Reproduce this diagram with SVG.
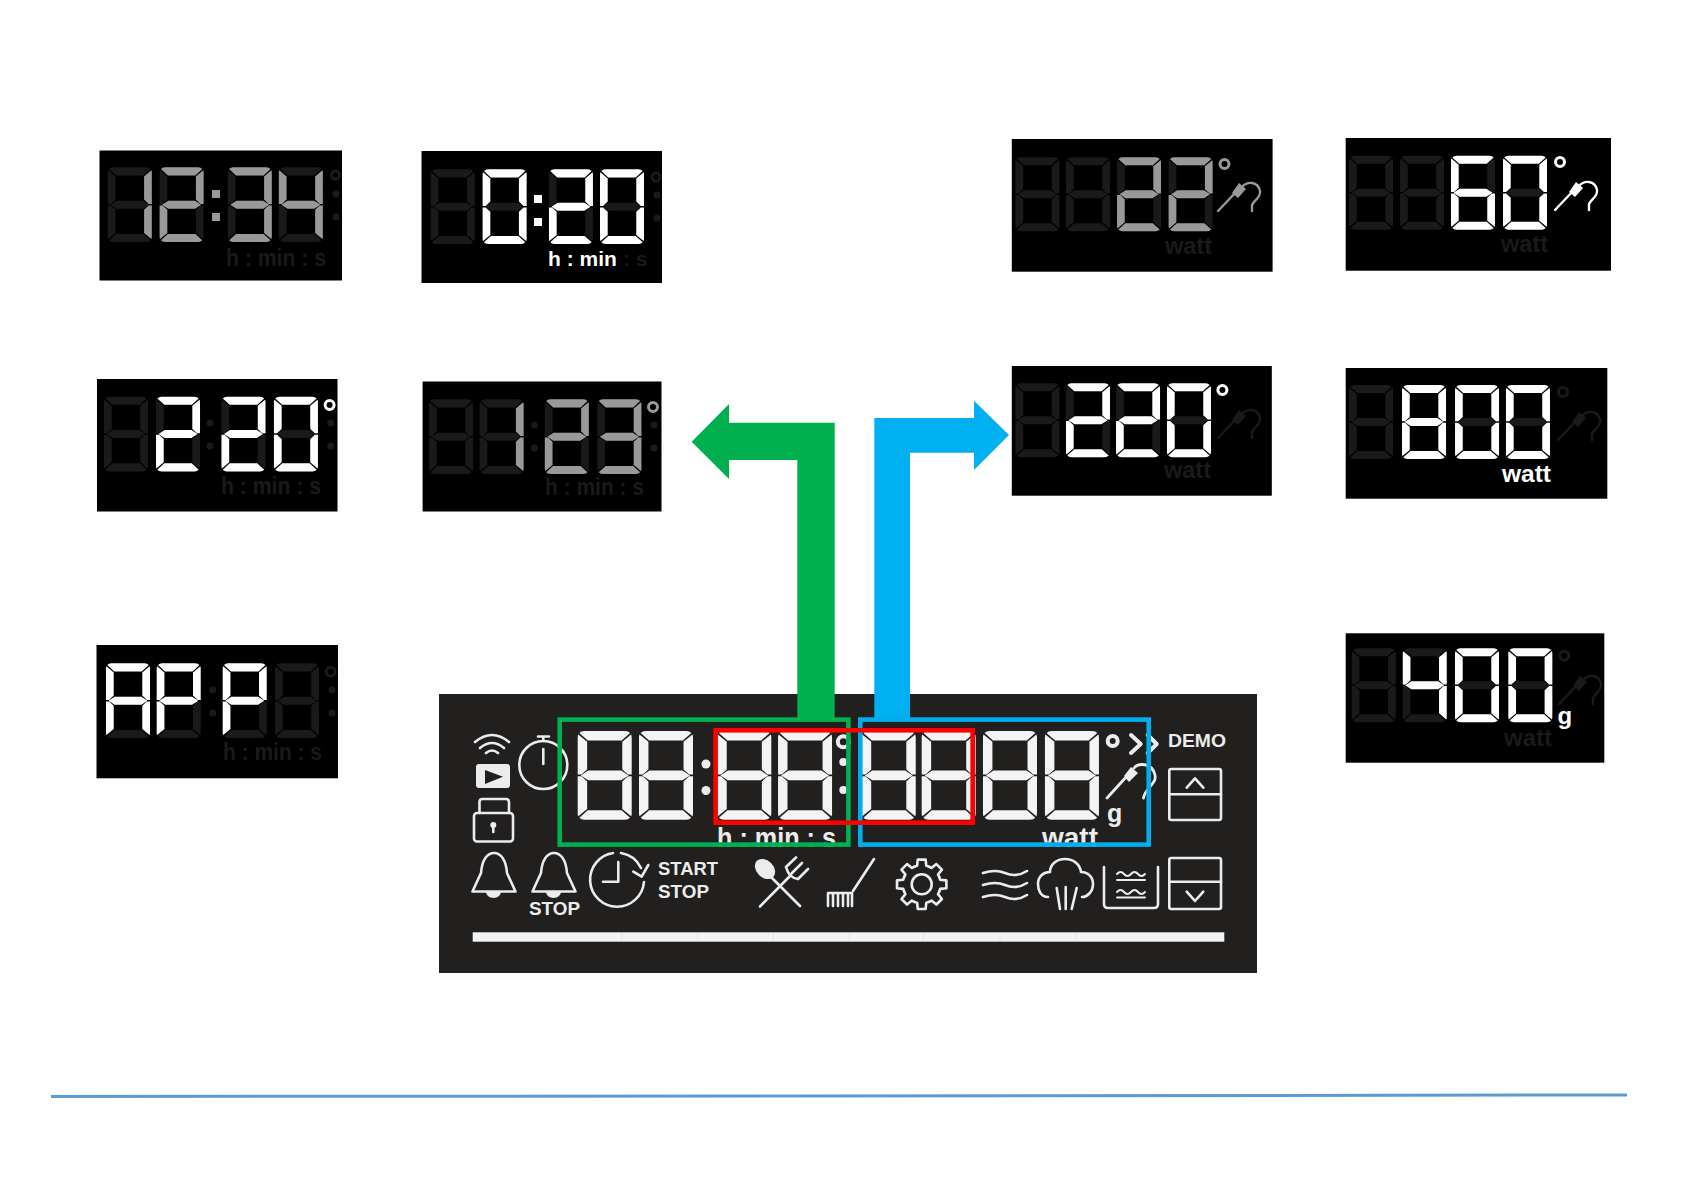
<svg xmlns="http://www.w3.org/2000/svg" width="1684" height="1191" viewBox="0 0 1684 1191">
<style>
.bg{fill:#000}
.dim{fill:#1a1a1a;color:#1a1a1a}
.wh{fill:#fff;color:#fff}
.gy{fill:#999;color:#999}
.lbl{font-family:"Liberation Sans",Arial,sans-serif;font-weight:700;font-size:24px}
.lbs{font-family:"Liberation Sans",Arial,sans-serif;font-weight:700;font-size:21px}
.pt{font-family:"Liberation Sans",Arial,sans-serif;font-weight:700;fill:#ececec}
.ic{fill:none;stroke:#ececec;stroke-width:2.6;stroke-linecap:round;stroke-linejoin:round}
.icf{fill:#ececec}
.ring{fill:none;stroke:currentColor;stroke-width:3}
</style>
<defs>
<path id="sa" d="M5 0H35Q37.500 0 38.800 1.700L32.500 8H7.500L1.200 1.700Q2.500 0 5 0Z"/>
<path id="sf" d="M0 5.500Q0 3.800 .4 2.900L7 9V32L2.800 36.300H0Z"/>
<path id="sb" d="M40 5.500Q40 3.800 39.600 2.900L33 9V32L37.200 36.300H40Z"/>
<path id="sg" d="M2.300 37L7.800 33H32.200L37.700 37 32.200 41H7.800Z"/>
<path id="se" d="M0 68.500Q0 70.200 .4 71.100L7 65V42L2.800 37.700H0Z"/>
<path id="sc" d="M40 68.500Q40 70.200 39.600 71.100L33 65V42L37.200 37.700H40Z"/>
<path id="sd" d="M5 74H35Q37.500 74 38.800 72.300L32.500 66H7.500L1.200 72.300Q2.500 74 5 74Z"/>
<g id="d8"><use href="#sa"/><use href="#sb"/><use href="#sc"/><use href="#sd"/><use href="#se"/><use href="#sf"/><use href="#sg"/></g>
<g id="d0"><use href="#sa"/><use href="#sb"/><use href="#sc"/><use href="#sd"/><use href="#se"/><use href="#sf"/></g>
<g id="d1"><use href="#sb"/><use href="#sc"/></g>
<g id="d2"><use href="#sa"/><use href="#sb"/><use href="#sg"/><use href="#se"/><use href="#sd"/></g>
<g id="d3"><use href="#sa"/><use href="#sb"/><use href="#sg"/><use href="#sc"/><use href="#sd"/></g>
<g id="d4"><use href="#sf"/><use href="#sb"/><use href="#sg"/><use href="#sc"/></g>
<g id="d6"><use href="#sa"/><use href="#sf"/><use href="#sg"/><use href="#se"/><use href="#sc"/><use href="#sd"/></g>
<g id="dA"><use href="#sa"/><use href="#sb"/><use href="#sc"/><use href="#se"/><use href="#sf"/><use href="#sg"/></g>
<g id="dP"><use href="#sa"/><use href="#sb"/><use href="#se"/><use href="#sf"/><use href="#sg"/></g>
<g id="probe"><path d="M0 30L19 10M24 6C29 0 40 0 42 10C43 17 36 19 34 24V30" fill="none" stroke="currentColor" stroke-width="2.400" stroke-linecap="round"/><path d="M14 12L21 2 28 8 20 17Z" fill="currentColor"/></g>
<path id="tooth" d="M-7.270 -17.550A19 19 0 0 1 -4.600 -18.440L-3.910 -24.690H3.910L4.600 -18.440A19 19 0 0 1 7.270 -17.550"/>
</defs>
<rect width="1684" height="1191" fill="#fff"/>

<g id="inset-1234">
<rect class="bg" x="99.500" y="150.500" width="242.500" height="130"/>
<g transform="translate(107.800 167.300) scale(1.1 1.01)">
<use href="#d8" class="dim"/><use href="#d1" class="gy"/>
<use href="#d8" x="47.100" class="dim"/><use href="#d2" x="47.100" class="gy"/>
<use href="#d8" x="109.100" class="dim"/><use href="#d3" x="109.100" class="gy"/>
<use href="#d8" x="155.500" class="dim"/><use href="#d4" x="155.500" class="gy"/>
</g>
<rect class="gy" x="212" y="190" width="8" height="8"/><rect class="gy" x="212" y="213" width="8" height="8"/>
<circle class="ring dim" cx="335.500" cy="175" r="4"/><circle class="dim" cx="336" cy="194" r="3.500"/><circle class="dim" cx="336" cy="217" r="3.500"/>
<text class="lbl dim" x="226" y="266" textLength="100" lengthAdjust="spacingAndGlyphs">h : min : s</text>
</g>

<g id="inset-020">
<rect class="bg" x="421.500" y="151" width="240.500" height="132"/>
<g transform="translate(430.700 169.300) scale(1.1 1.01)">
<use href="#d8" class="dim"/>
<use href="#d8" x="47.200" class="dim"/><use href="#d0" x="47.200" class="wh"/>
<use href="#d8" x="107.500" class="dim"/><use href="#d2" x="107.500" class="wh"/>
<use href="#d8" x="153.900" class="dim"/><use href="#d0" x="153.900" class="wh"/>
</g>
<rect class="wh" x="534" y="195" width="8" height="8"/><rect class="wh" x="534" y="218" width="8" height="8"/>
<circle class="ring dim" cx="656" cy="177" r="4"/><circle class="dim" cx="657" cy="195" r="3.500"/><circle class="dim" cx="657" cy="218" r="3.500"/>
<text class="lbs wh" x="548" y="266">h : min</text>
<text class="lbs dim" x="623" y="266">: s</text>
</g>

<g id="inset-220a">
<rect class="bg" x="97" y="379" width="240.500" height="132.500"/>
<g transform="translate(104 396.700) scale(1.1 1.01)">
<use href="#d8" class="dim"/>
<use href="#d8" x="47.300" class="dim"/><use href="#d2" x="47.300" class="wh"/>
<use href="#d8" x="106.800" class="dim"/><use href="#d2" x="106.800" class="wh"/>
<use href="#d8" x="154.500" class="dim"/><use href="#d0" x="154.500" class="wh"/>
</g>
<circle class="dim" cx="210" cy="423" r="3.500"/><circle class="dim" cx="210" cy="446" r="3.500"/>
<circle class="ring wh" cx="329.600" cy="405" r="4.500"/><circle class="dim" cx="330.700" cy="423" r="3.500"/><circle class="dim" cx="330.700" cy="446" r="3.500"/>
<text class="lbl dim" x="221" y="494" textLength="100" lengthAdjust="spacingAndGlyphs">h : min : s</text>
</g>

<g id="inset-123">
<rect class="bg" x="422.600" y="381.500" width="238.900" height="130"/>
<g transform="translate(429 399.300) scale(1.1 1.01)">
<use href="#d8" class="dim"/>
<use href="#d8" x="46" class="dim"/><use href="#d1" x="46" class="gy"/>
<use href="#d8" x="105.300" class="dim"/><use href="#d2" x="105.300" class="gy"/>
<use href="#d8" x="153.100" class="dim"/><use href="#d3" x="153.100" class="gy"/>
</g>
<circle class="dim" cx="534.400" cy="425" r="3.500"/><circle class="dim" cx="534.400" cy="448" r="3.500"/>
<circle class="ring gy" cx="653" cy="407" r="4.500"/><circle class="dim" cx="654" cy="425" r="3.500"/><circle class="dim" cx="654" cy="448" r="3.500"/>
<text class="lbl dim" x="545" y="495" textLength="99" lengthAdjust="spacingAndGlyphs">h : min : s</text>
</g>

<g id="inset-app">
<rect class="bg" x="96.500" y="645" width="241.500" height="133.300"/>
<g transform="translate(106 663.300) scale(1.1 1.01)">
<use href="#d8" class="dim"/><use href="#dA" class="wh"/>
<use href="#d8" x="46.100" class="dim"/><use href="#dP" x="46.100" class="wh"/>
<use href="#d8" x="106.100" class="dim"/><use href="#dP" x="106.100" class="wh"/>
<use href="#d8" x="153.600" class="dim"/>
</g>
<circle class="dim" cx="212.700" cy="690" r="3.500"/><circle class="dim" cx="212.700" cy="713" r="3.500"/>
<circle class="ring dim" cx="330.700" cy="671.700" r="4.500"/><circle class="dim" cx="332" cy="690" r="3.500"/><circle class="dim" cx="332" cy="713" r="3.500"/>
<text class="lbl dim" x="223" y="760" textLength="99" lengthAdjust="spacingAndGlyphs">h : min : s</text>
</g>

<g id="inset-22">
<rect class="bg" x="1011.800" y="139" width="260.800" height="132.700"/>
<g transform="translate(1015.500 157.300) scale(1.1 1)">
<use href="#d8" class="dim"/>
<use href="#d8" x="45.900" class="dim"/>
<use href="#d8" x="92.300" class="dim"/><use href="#d2" x="92.300" class="gy"/>
<use href="#d8" x="139.200" class="dim"/><use href="#d2" x="139.200" class="gy"/>
</g>
<circle class="ring gy" cx="1224.500" cy="164" r="4.500"/>
<use href="#probe" class="gy" x="1218" y="181"/>
<text class="lbl dim" x="1165" y="254" textLength="47" lengthAdjust="spacingAndGlyphs">watt</text>
</g>

<g id="inset-60">
<rect class="bg" x="1345.700" y="138" width="265.300" height="132.700"/>
<g transform="translate(1349 155.700) scale(1.1 1)">
<use href="#d8" class="dim"/>
<use href="#d8" x="46.400" class="dim"/>
<use href="#d8" x="92.700" class="dim"/><use href="#d6" x="92.700" class="wh"/>
<use href="#d8" x="140" class="dim"/><use href="#d0" x="140" class="wh"/>
</g>
<circle class="ring wh" cx="1560" cy="162" r="4.500"/>
<use href="#probe" class="wh" x="1555" y="180"/>
<text class="lbl dim" x="1501" y="252" textLength="47" lengthAdjust="spacingAndGlyphs">watt</text>
</g>

<g id="inset-220b">
<rect class="bg" x="1011.800" y="366" width="260" height="129.700"/>
<g transform="translate(1015.500 383.300) scale(1.1 1)">
<use href="#d8" class="dim"/>
<use href="#d8" x="45.900" class="dim"/><use href="#d2" x="45.900" class="wh"/>
<use href="#d8" x="91.400" class="dim"/><use href="#d2" x="91.400" class="wh"/>
<use href="#d8" x="137.700" class="dim"/><use href="#d0" x="137.700" class="wh"/>
</g>
<circle class="ring wh" cx="1222.400" cy="390" r="4.500"/>
<use href="#probe" class="dim" x="1218" y="408"/>
<text class="lbl dim" x="1164" y="478" textLength="47" lengthAdjust="spacingAndGlyphs">watt</text>
</g>

<g id="inset-800">
<rect class="bg" x="1345.700" y="368" width="261.600" height="130.700"/>
<g transform="translate(1349 385) scale(1.1 1)">
<use href="#d8" class="dim"/>
<use href="#d8" x="48.200" class="wh"/>
<use href="#d8" x="96.400" class="dim"/><use href="#d0" x="96.400" class="wh"/>
<use href="#d8" x="142.700" class="dim"/><use href="#d0" x="142.700" class="wh"/>
</g>
<circle class="ring dim" cx="1563" cy="392" r="4.500"/>
<use href="#probe" class="dim" x="1558" y="410"/>
<text class="lbl wh" x="1502" y="482" textLength="49" lengthAdjust="spacingAndGlyphs">watt</text>
</g>

<g id="inset-400">
<rect class="bg" x="1345.700" y="633.300" width="258.600" height="129.400"/>
<g transform="translate(1351.700 648.300) scale(1.1 1)">
<use href="#d8" class="dim"/>
<use href="#d8" x="46.400" class="dim"/><use href="#d4" x="46.400" class="wh"/>
<use href="#d8" x="93.900" class="dim"/><use href="#d0" x="93.900" class="wh"/>
<use href="#d8" x="142.400" class="dim"/><use href="#d0" x="142.400" class="wh"/>
</g>
<circle class="ring dim" cx="1564.300" cy="655.700" r="4.500"/>
<use href="#probe" class="dim" x="1559" y="674"/>
<text class="lbl wh" x="1557.500" y="723.500">g</text>
<text class="lbl dim" x="1504" y="746" textLength="48" lengthAdjust="spacingAndGlyphs">watt</text>
</g>

<g id="panel">
<rect x="439" y="694" width="818" height="279" fill="#221f1f"/>
<g transform="translate(577.700 731) scale(1.35 1.2)" fill="#f4f4f4">
<use href="#d8"/><use href="#d8" x="45.400"/><use href="#d8" x="103.400"/><use href="#d8" x="148.400"/>
<use href="#d8" x="210.400"/><use href="#d8" x="254.800"/><use href="#d8" x="300.200"/><use href="#d8" x="346.100"/>
</g>
<circle class="icf" cx="706" cy="764" r="4.500"/><circle class="icf" cx="706" cy="790.500" r="4.500"/>
<circle cx="843.300" cy="741.700" r="5.500" fill="none" stroke="#ececec" stroke-width="4"/><circle class="icf" cx="843.300" cy="762" r="4"/><circle class="icf" cx="843.300" cy="790" r="4"/>
<circle cx="1112.700" cy="741" r="5" fill="none" stroke="#ececec" stroke-width="4"/>
<path class="ic" style="stroke-width:4" d="M1131 735L1140.700 744 1131 753M1147.700 735L1156.700 744 1147.700 753"/>
<text class="pt" x="1168" y="747" font-size="18" textLength="58" lengthAdjust="spacingAndGlyphs">DEMO</text>
<text class="pt" x="1107" y="822" font-size="25">g</text>
<text class="pt" x="1042" y="847" font-size="27" textLength="56" lengthAdjust="spacingAndGlyphs">watt</text>
<text class="pt" x="717" y="847" font-size="27" textLength="119" lengthAdjust="spacingAndGlyphs">h : min : s</text>
<g id="icon-wifi"><path class="ic" d="M475 742Q492 728 509 742M480 748Q492 738 504 748M486 753Q492 748 498 753"/></g>
<g id="icon-play"><rect class="icf" x="476" y="764" width="34" height="24" rx="3"/><path d="M485 770L503 776.700 485 784Z" fill="#221f1f"/></g>
<g id="icon-lock"><rect class="ic" x="474" y="813" width="39" height="28.500" rx="3"/><path class="ic" d="M479.500 813V802Q479.500 799 482.500 799H506Q509 799 509 802V813"/><circle class="icf" cx="493.300" cy="825" r="3"/><path class="ic" d="M493.300 826V832"/></g>
<g id="icon-stopwatch"><circle class="ic" cx="543.300" cy="765" r="24"/><path class="ic" d="M538 736.500H549M543.300 737V741M543.300 749V764"/></g>
<g id="icon-bell"><path class="ic" d="M472.500 891.500H515.500L507 873C506 860 501 853 494 853C487 853 482 860 481 873Z"/><path class="icf" d="M486 892a7.500 6 0 0 0 15 0Z"/></g>
<g id="icon-bell-stop"><path class="ic" d="M532.500 891.500H575.500L567 873C566 860 561 853 554 853C547 853 542 860 541 873Z"/><path class="icf" d="M546 892a7.500 6 0 0 0 15 0Z"/><text class="pt" x="529" y="915" font-size="18" textLength="51" lengthAdjust="spacingAndGlyphs">STOP</text></g>
<g id="icon-clock"><path class="ic" d="M621 853A27 27 0 0 1 641 868M633.300 871.700L641.700 876.700 648.300 865M644 882A27 27 0 1 1 613 853M618.300 862V881.700H603"/></g>
<text class="pt" x="658" y="875" font-size="18" textLength="60" lengthAdjust="spacingAndGlyphs">START</text>
<text class="pt" x="658" y="897.500" font-size="18" textLength="51" lengthAdjust="spacingAndGlyphs">STOP</text>
<g id="icon-cutlery"><ellipse class="icf" cx="765" cy="869" rx="8.500" ry="11.500" transform="rotate(-45 765 869)"/><path class="ic" d="M770 876L800 906M760 906.500L791 875M786 867L796 857.500M792 873L802 863M798 879L808 869M786 867Q789 878 798 879"/></g>
<g id="icon-broom"><path class="ic" d="M853 891L874 859M828 893H852V906M828 893V906M833 893V906M838 893V906M843 893V906M848 893V906"/></g>
<g id="icon-gear" transform="translate(921.700 884.300)"><g class="ic"><use href="#tooth"/><use href="#tooth" transform="rotate(45)"/><use href="#tooth" transform="rotate(90)"/><use href="#tooth" transform="rotate(135)"/><use href="#tooth" transform="rotate(180)"/><use href="#tooth" transform="rotate(225)"/><use href="#tooth" transform="rotate(270)"/><use href="#tooth" transform="rotate(315)"/></g><circle class="ic" r="10"/></g>
<g id="icon-waves"><path class="ic" d="M983 873C992 870 998 870 1005 873S1019 876 1027 871M983 885C992 882 998 882 1005 885S1019 888 1027 883M983 897C992 894 998 894 1005 897S1019 900 1027 895"/></g>
<g id="icon-steam"><path class="ic" d="M1048 897C1040 897 1038 889 1038 884C1038 876 1044 872 1050 872C1050 864 1057 859 1065 859C1073 859 1080 864 1081 872C1088 872 1093 877 1093 884C1093 892 1087 897 1082 897M1056.700 888L1060 909M1065.700 887V909M1076.700 888L1071.700 909"/></g>
<g id="icon-water"><path class="ic" d="M1104 867V904Q1104 908 1108 908H1154Q1158 908 1158 904V867"/><path class="ic" style="stroke-width:2" d="M1117 874q3.500 -4 7 0t7 0t7 0t7 0M1117 880H1145M1117 892q3.500 -4 7 0t7 0t7 0t7 0M1117 897.500H1145"/></g>
<g id="icon-up"><rect class="ic" x="1169.300" y="769" width="51.700" height="51" rx="2"/><path class="ic" d="M1169.300 794.300H1221M1186.700 787.700L1195 778.300 1203.300 787.700"/></g>
<g id="icon-down"><rect class="ic" x="1169.300" y="858" width="51.700" height="51" rx="2"/><path class="ic" d="M1169.300 881.700H1221M1186.700 891.700L1195 901 1203.300 891.700"/></g>
<g id="icon-probe"><path d="M1107 798L1128 775M1134 768C1138 763 1152 762 1155 775C1157 784 1145 788 1143.500 798" fill="none" stroke="#ececec" stroke-width="2.800" stroke-linecap="round"/><path class="icf" d="M1124 776L1131 767 1138 773 1129 782Z"/></g>
<rect x="472.700" y="932.300" width="751.600" height="9.400" fill="#f4f4f4"/>
<path d="M621.700 933V941M697.700 933V941M773.300 933V941M849.300 933V941M923.300 933V941M1000 933V941M1076 933V941" stroke="#e4e4e4" stroke-width="1" fill="none"/>
</g>

<g id="connectors">
<path id="arrow-green" d="M691.700 441.700L729 404V422.700H834.700V718H797.300V460H729V479Z" fill="#00b050"/>
<path id="arrow-blue" d="M874.300 718V418H974V400.700L1009 435 974 470V452.700H910V718Z" fill="#00b0f0"/>
<rect id="frame-green" x="559.700" y="719.600" width="288.700" height="125" fill="none" stroke="#00b050" stroke-width="4.600"/>
<rect id="frame-blue" x="860.300" y="719.600" width="288.400" height="125" fill="none" stroke="#00aeef" stroke-width="4.600"/>
<rect id="frame-red" x="715.600" y="730.300" width="257.100" height="92.400" fill="none" stroke="#ff0000" stroke-width="4.600"/>
<path id="rule" d="M51 1096.500L800 1096 1627 1095" fill="none" stroke="#5b9bd5" stroke-width="3"/>
</g>
</svg>
